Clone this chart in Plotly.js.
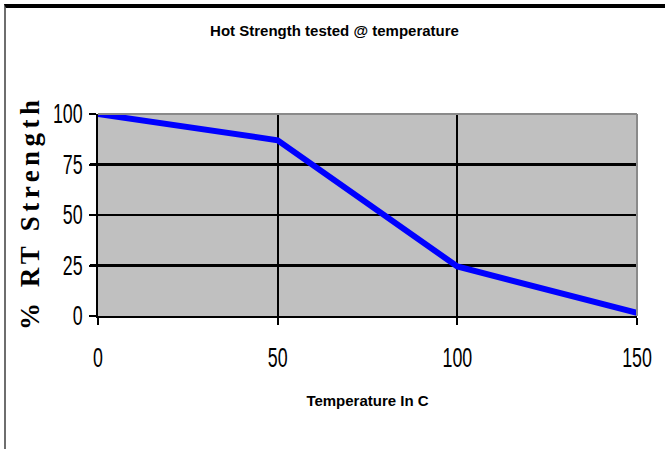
<!DOCTYPE html>
<html>
<head>
<meta charset="utf-8">
<script src="https://cdn.plot.ly/plotly-3.0.1.min.js"></script>
<style>
  html, body { margin: 0; padding: 0; background: #fff; }
  #wrap { position: relative; width: 665px; height: 449px; overflow: hidden; }
  #chart { position: absolute; left: 0; top: 0; width: 665px; height: 449px; }
  #frame { position: absolute; left: 4px; top: 4px; width: 661px; height: 445px;
           border-top: 4px solid #000; border-left: 2px solid #6e6e6e;
           box-sizing: border-box; pointer-events: none; }
</style>
</head>
<body>
<div id="wrap">
  <div id="chart"></div>
  <div id="frame"></div>
</div>
<script>
const temperature = [0, 50, 100, 150];
const rtStrength = [100, 87, 24.5, 1.5];
const xTicks = [0, 50, 100, 150];
const yTicks = [0, 25, 50, 75, 100];
const yMajorGrid = [25, 75];

const chartTitle = 'Hot Strength tested @ temperature';
const xTitle = 'Temperature In C';
const yTitle = '% RT Strength';

const tickFont = { family: 'Liberation Sans, Arial, sans-serif', size: 27, color: '#000' };

// invisible carrier trace so the primary y axis (labels, 50-grid) is drawn
const carrier = {
  x: temperature, y: rtStrength, xaxis: 'x', yaxis: 'y',
  type: 'scatter', mode: 'lines', line: { width: 0, color: 'rgba(0,0,0,0)' },
  opacity: 0, hoverinfo: 'skip', showlegend: false
};

const trace = {
  x: temperature,
  y: rtStrength,
  xaxis: 'x',
  yaxis: 'y2',
  type: 'scatter',
  mode: 'lines',
  line: { color: '#0000ff', width: 6 },
  hoverinfo: 'skip',
  showlegend: false
};

const layout = {
  width: 665,
  height: 449,
  margin: { l: 98, r: 28, t: 114, b: 133 },
  paper_bgcolor: '#ffffff',
  plot_bgcolor: '#c0c0c0',
  title: {
    text: chartTitle,
    font: { family: 'Liberation Sans, Arial, sans-serif', size: 15, color: '#000', weight: 'bold' },
    x: 0.503, xanchor: 'center',
    y: 0.932, yanchor: 'middle', yref: 'container'
  },
  xaxis: {
    range: [0, 150],
    tickvals: xTicks,
    ticktext: xTicks.map(String),
    tickfont: tickFont,
    ticks: 'outside', ticklen: 7, tickwidth: 2, tickcolor: '#000',
    ticklabelstandoff: 10,
    showline: true, linecolor: '#000', linewidth: 2,
    showgrid: true, gridcolor: '#000', gridwidth: 2,
    zeroline: false,
    fixedrange: true,
    title: {
      text: xTitle,
      font: { family: 'Liberation Sans, Arial, sans-serif', size: 15, color: '#000', weight: 'bold' },
      standoff: 23
    }
  },
  yaxis: {
    range: [0, 100],
    tickvals: yTicks,
    ticktext: yTicks.map(String),
    tickfont: tickFont,
    ticks: 'outside', ticklen: 7, tickwidth: 2, tickcolor: '#000',
    ticklabelstandoff: 1,
    showline: true, linecolor: '#000', linewidth: 2,
    showgrid: true, gridcolor: '#000', gridwidth: 1.5,
    zeroline: false,
    fixedrange: true
  },
  yaxis2: {
    overlaying: 'y',
    side: 'left',
    range: [0, 100],
    tickvals: yMajorGrid,
    showticklabels: false,
    ticks: 'outside', ticklen: 7, tickwidth: 3, tickcolor: '#000',
    showline: false,
    showgrid: true, gridcolor: '#000', gridwidth: 3,
    zeroline: false,
    fixedrange: true,
    title: {
      text: yTitle,
      font: { family: 'Liberation Serif, Times New Roman, serif', size: 27, color: '#000', weight: 'bold' },
      standoff: 42
    }
  },
  shapes: [
    { type: 'line', xref: 'paper', yref: 'paper', x0: 0, x1: 1, y0: 1, y1: 1,
      line: { color: '#8a8a8a', width: 2 } },
    { type: 'line', xref: 'paper', yref: 'paper', x0: 1, x1: 1, y0: 0, y1: 1,
      line: { color: '#8a8a8a', width: 2 } }
  ]
};

Plotly.newPlot('chart', [carrier, trace], layout, { displayModeBar: false, staticPlot: true })
  .then(function (gd) {
    // narrow the tick digits like the condensed original face
    gd.querySelectorAll('.xtick text, .ytick text').forEach(function (t) {
      const w = t.getComputedTextLength();
      t.setAttribute('textLength', (w * 0.66).toFixed(1));
      t.setAttribute('lengthAdjust', 'spacingAndGlyphs');
    });
    // letter-spaced vertical axis title
    gd.querySelectorAll('.g-y2title text').forEach(function (t) {
      t.setAttribute('textLength', '230');
      t.setAttribute('lengthAdjust', 'spacing');
    });
  });
</script>
</body>
</html>
